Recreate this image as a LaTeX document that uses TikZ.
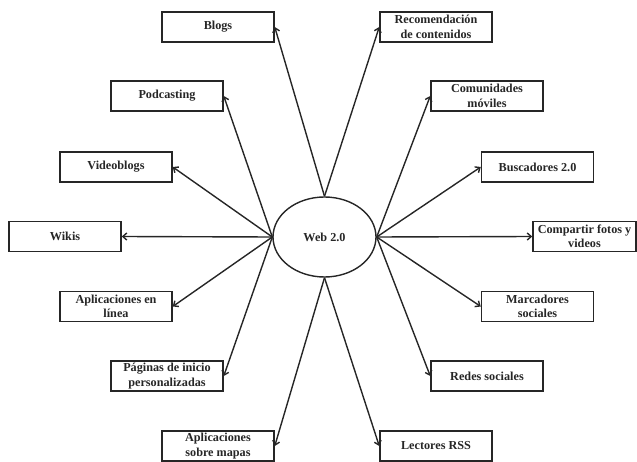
\documentclass[tikz,border=0pt]{standalone}
\usepackage{fontspec}
\setmainfont{Liberation Serif}
\usetikzlibrary{shapes.geometric,arrows.meta}
\begin{document}
\begin{tikzpicture}[x=1pt,y=-1pt,
  every node/.style={font=\fontsize{12.2}{14.5}\selectfont\bfseries, text=black!85},
  topic/.style={draw=black!85, line width=1.5pt, rectangle, minimum width=112pt,
    minimum height=30pt, inner sep=0pt, align=center},
  hub/.style={draw=black!85, line width=1.4pt, ellipse, minimum width=103pt,
    minimum height=80pt, inner sep=0pt},
  link/.style={draw=black!85, line width=1.4pt, -{Straight Barb[length=4pt,width=7pt]}}]
\useasboundingbox (0,0) rectangle (637,462);

% central node
\node[hub] (web) at (324.5,237) {Web 2.0};

% left column of topics
\node[topic] (blogs) at (218,27) {Blogs};
\node[topic] (podcast) at (167,96) {Podcasting};
\node[topic] (vblogs) at (116,167) {Videoblogs};
\node[topic] (wikis) at (65,236.5) {Wikis};
\node[topic] (apponline) at (116,306.5) {Aplicaciones en\\línea};
\node[topic] (pages) at (167,376) {Páginas de inicio\\personalizadas};
\node[topic] (maps) at (218,446) {Aplicaciones\\sobre mapas};

% right column of topics
\node[topic] (recom) at (436,27) {Recomendación\\de contenidos};
\node[topic] (mobile) at (487,96) {Comunidades\\móviles};
\node[topic] (search) at (537.5,167) {Buscadores 2.0};
\node[topic, minimum width=103pt] (photos) at (584.5,236.5) {Compartir fotos y\\videos};
\node[topic] (bookmarks) at (537.5,306.5) {Marcadores\\sociales};
\node[topic] (social) at (487,376) {Redes sociales};
\node[topic] (rss) at (436,446) {Lectores RSS};

% connectors
\draw[link] (web.north) -- (blogs.east);
\draw[link] (web.west) -- (podcast.east);
\draw[link] (web.west) -- (vblogs.east);
\draw[link] (web.west) -- (wikis.east);
\draw[link] (web.west) -- (apponline.east);
\draw[link] (web.west) -- (pages.east);
\draw[link] (web.south) -- (maps.east);
\draw[link] (web.north) -- (recom.west);
\draw[link] (web.east) -- (mobile.west);
\draw[link] (web.east) -- (search.west);
\draw[link] (web.east) -- (photos.west);
\draw[link] (web.east) -- (bookmarks.west);
\draw[link] (web.east) -- (social.west);
\draw[link] (web.south) -- (rss.west);
\end{tikzpicture}
\end{document}
